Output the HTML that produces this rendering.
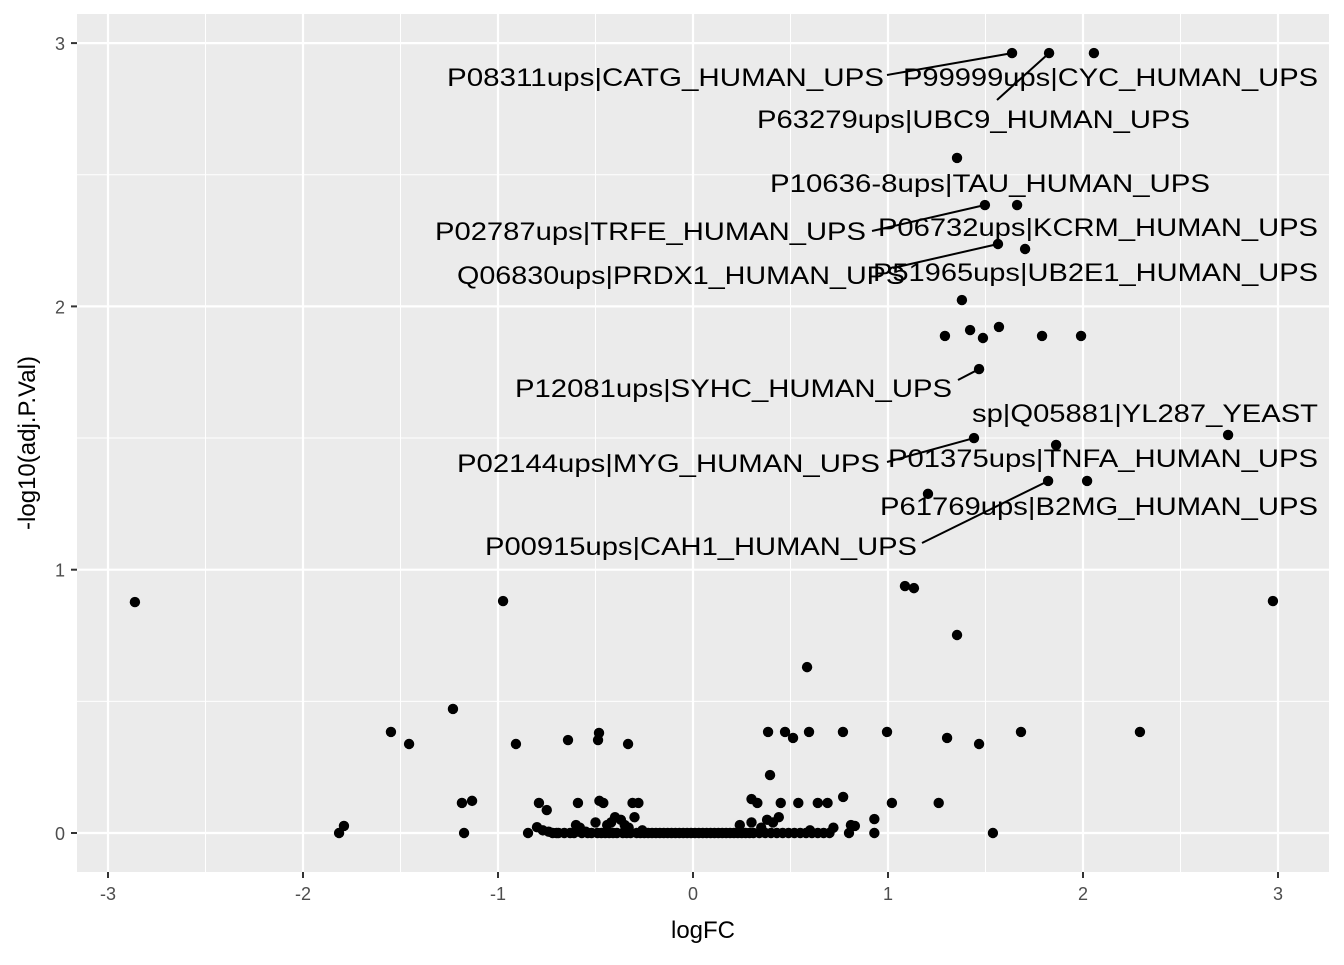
<!DOCTYPE html>
<html><head><meta charset="utf-8"><style>
body{margin:0;background:#fff}
text{font-family:"Liberation Sans",sans-serif}
</style></head><body>
<svg id="chart" width="1344" height="960" xmlns="http://www.w3.org/2000/svg"></svg>
<script>
const xTicks=[-3,-2,-1,0,1,2,3];
const yTicks=[0,1,2,3];
const logFC=[1.636,1.826,2.056,1.354,1.497,1.662,1.564,1.703,1.379,1.292,1.421,1.487,1.569,1.790,1.990,1.467,2.744,1.441,1.862,1.205,1.821,2.021,1.087,1.133,1.354,2.974,-2.862,-0.974,0.585,-1.231,-1.549,-1.456,-0.908,-0.641,-0.482,-0.487,-0.333,0.385,0.472,0.513,0.595,0.769,0.995,1.303,1.467,1.682,2.292,0.395,-1.815,-1.79,-1.185,-1.133,-1.174,-0.846,-0.79,-0.75,-0.59,-0.48,-0.46,-0.31,-0.28,0.3,0.33,0.45,0.54,0.64,0.69,0.77,1.02,1.26,0.93,0.83,1.538,
-0.8,-0.77,-0.74,-0.72,-0.7,-0.6,-0.58,-0.55,-0.5,-0.44,-0.42,-0.4,-0.37,-0.35,-0.33,-0.3,-0.26,0.24,0.3,0.35,0.38,0.41,0.44,0.6,0.72,0.8,0.81,0.93,
-0.69,-0.66,-0.63,-0.61,-0.57,-0.54,-0.52,-0.49,-0.47,-0.45,-0.43,-0.41,-0.39,-0.36,-0.34,-0.32,-0.29,-0.27,-0.25,-0.23,-0.21,-0.19,-0.17,-0.15,-0.13,-0.11,-0.09,-0.07,-0.05,-0.03,-0.01,0.01,0.03,0.05,0.07,0.09,0.11,0.13,0.15,0.17,0.19,0.21,0.23,0.25,0.27,0.29,0.31,0.34,0.37,0.4,0.43,0.46,0.49,0.52,0.55,0.58,0.61,0.64,0.67,0.7];
const negLogP=[2.962,2.962,2.962,2.564,2.385,2.385,2.237,2.218,2.024,1.888,1.910,1.880,1.922,1.888,1.888,1.762,1.512,1.500,1.474,1.288,1.337,1.337,0.938,0.930,0.752,0.881,0.877,0.881,0.630,0.471,0.384,0.338,0.338,0.353,0.380,0.353,0.338,0.384,0.384,0.361,0.384,0.384,0.384,0.361,0.338,0.384,0.384,0.220,0,0.027,0.114,0.122,0,0,0.114,0.087,0.114,0.122,0.114,0.114,0.114,0.129,0.114,0.114,0.114,0.114,0.114,0.137,0.114,0.114,0.053,0.027,0,
0.022,0.01,0.005,0.0,0.0,0.03,0.02,0.005,0.04,0.03,0.04,0.06,0.05,0.03,0.02,0.06,0.01,0.03,0.04,0.02,0.05,0.04,0.06,0.01,0.02,0.0,0.03,0.0,
0,0,0,0,0,0,0,0,0,0,0,0,0,0,0,0,0,0,0,0,0,0,0,0,0,0,0,0,0,0,0,0,0,0,0,0,0,0,0,0,0,0,0,0,0,0,0,0,0,0,0,0,0,0,0,0,0,0,0,0];
const labels=["P08311ups|CATG_HUMAN_UPS","P99999ups|CYC_HUMAN_UPS","P63279ups|UBC9_HUMAN_UPS","P10636-8ups|TAU_HUMAN_UPS","P02787ups|TRFE_HUMAN_UPS","P06732ups|KCRM_HUMAN_UPS","Q06830ups|PRDX1_HUMAN_UPS","P51965ups|UB2E1_HUMAN_UPS","P12081ups|SYHC_HUMAN_UPS","sp|Q05881|YL287_YEAST","P02144ups|MYG_HUMAN_UPS","P01375ups|TNFA_HUMAN_UPS","P61769ups|B2MG_HUMAN_UPS","P00915ups|CAH1_HUMAN_UPS"];
const labelPoint=[0,2,1,3,4,5,6,7,15,16,17,18,21,20];
const lay=[[447,437,77,887,75],[903,415,77,null],[757,433,119,997,100],[770,440,183,null],[435,431,231,872,231],[878,440,227,null],[457,448,275,893,268],[873,445,272,null],[515,437,388,958,380],[972,346,413,null],[457,423,463,887,462],[888,430,458,null],[880,438,506,null],[485,432,546,922,543]];
const NS="http://www.w3.org/2000/svg";
const svg=document.getElementById('chart');
const L=77,R=1329,T=14,B=872;
const X=v=>693+v*195, Y=v=>833-v*263.3;
function mk(t,a,p){const e=document.createElementNS(NS,t);for(const k in a)e.setAttribute(k,a[k]);(p||svg).appendChild(e);return e;}
const bg=mk('rect',{x:L,y:T,width:R-L,height:B-T,fill:'#EBEBEB'});


for(let v=-3;v<=3;v+=1){const ln=mk('line',{x1:X(v+0.5),x2:X(v+0.5),y1:T,y2:B,stroke:'#fff','stroke-width':1});}
for(let v=0.5;v<3.5;v+=1){const ln=mk('line',{y1:Y(v),y2:Y(v),x1:L,x2:R,stroke:'#fff','stroke-width':1});}
xTicks.forEach(v=>{const ln=mk('line',{x1:X(v),x2:X(v),y1:T,y2:B,stroke:'#fff','stroke-width':2.2});
 const tk=mk('line',{x1:X(v),x2:X(v),y1:B,y2:B+6,stroke:'#333','stroke-width':2});
 const t=mk('text',{x:X(v),y:B+28,'text-anchor':'middle','font-size':18,fill:'#4D4D4D'});t.textContent=v;});
yTicks.forEach(v=>{const ln=mk('line',{y1:Y(v),y2:Y(v),x1:L,x2:R,stroke:'#fff','stroke-width':2.2});
 const tk=mk('line',{x1:L-6,x2:L,y1:Y(v),y2:Y(v),stroke:'#333','stroke-width':2});
 const t=mk('text',{x:L-12,y:Y(v)+7,'text-anchor':'end','font-size':18,fill:'#4D4D4D'});t.textContent=v;});
logFC.forEach((v,i)=>{const c=mk('circle',{cx:X(v),cy:Y(negLogP[i]),r:5.2,fill:'#000'});});
labels.forEach((s,i)=>{const l=lay[i];const p=labelPoint[i];
 if(l[3]!=null){const sg=mk('line',{x1:l[3],y1:l[4],x2:X(logFC[p]),y2:Y(negLogP[p]),stroke:'#000','stroke-width':2});}
 const t=mk('text',{x:l[0],y:l[2]+9,'font-size':25,fill:'#000',textLength:l[1],lengthAdjust:'spacingAndGlyphs'});t.textContent=s;});
const xt=mk('text',{x:(L+R)/2,y:938,'text-anchor':'middle','font-size':24,fill:'#000'});xt.textContent='logFC';


const yt=mk('text',{x:0,y:0,'text-anchor':'middle','font-size':24,fill:'#000',transform:'translate(35,'+((T+B)/2)+') rotate(-90)'});yt.textContent='-log10(adj.P.Val)';


</script>
</body></html>
